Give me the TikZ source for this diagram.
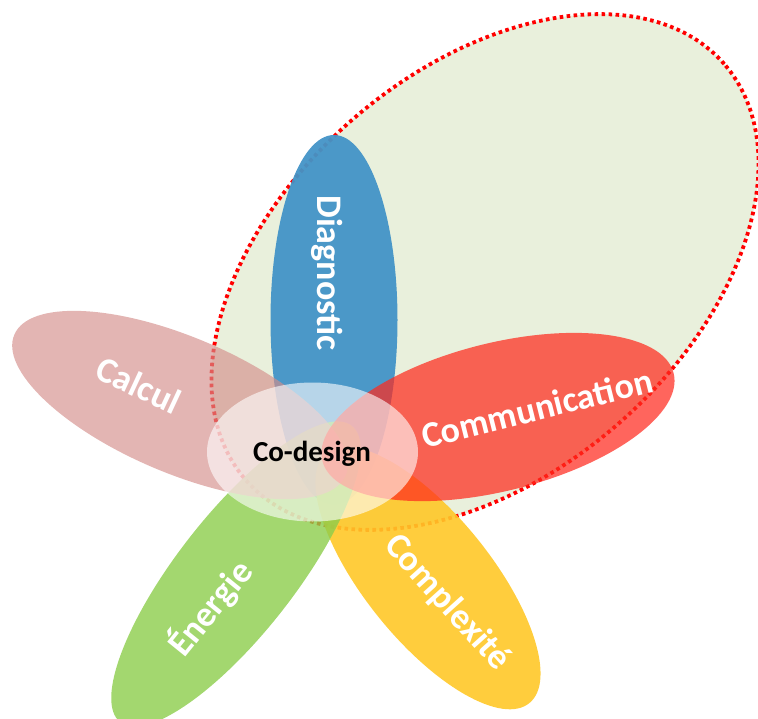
\documentclass[tikz,border=0pt]{standalone}
\usepackage{fontspec}
\setmainfont{Carlito}
\usetikzlibrary{shapes.geometric}
\definecolor{bigfill}{HTML}{E9F0DC}
\definecolor{dotred}{HTML}{FF0000}
\definecolor{cblue}{HTML}{4394C7}
\definecolor{cpink}{HTML}{D48E8B}
\definecolor{cred}{HTML}{FF2A1E}
\definecolor{cyellow}{HTML}{FFC828}
\definecolor{cgreen}{HTML}{8CCD4B}
\tikzset{
  petal/.style={ellipse, inner sep=0pt, draw=none},
  plabel/.style={text=white, font=\fontsize{36}{40}\selectfont\bfseries, inner sep=0pt},
}
\begin{document}
\begin{tikzpicture}[x=1pt,y=-1pt]
\useasboundingbox (0,0) rectangle (758,718);
% outer dotted ellipse
\node[petal, fill=bigfill, draw=dotred, line width=3.8pt, dash pattern=on 3.6pt off 3.4pt,
      minimum width=634pt, minimum height=404pt, rotate=41] (scope) at (485,272) {};
% Diagnostic
\node[petal, fill=cblue, fill opacity=0.95, minimum width=127pt, minimum height=370pt] (diag) at (334,320) {};
\node[plabel, rotate=-90] (diagt) at (327,273) {Diagnostic};
% Complexite
\node[petal, fill=cyellow, fill opacity=0.9, minimum width=322pt, minimum height=126pt, rotate=-51] (cplx) at (428,578) {};
\node[plabel, rotate=-48] (cplxt) at (447,603) {Complexité};
% Energie
\node[petal, fill=cgreen, fill opacity=0.8, minimum width=376pt, minimum height=118pt, rotate=52] (ener) at (236,574) {};
\node[plabel, rotate=51] (enert) at (210,608) {Énergie};
% Calcul
\node[petal, fill=cpink, fill opacity=0.65, minimum width=360pt, minimum height=136pt, rotate=-23] (calc) at (180,405) {};
\node[plabel, rotate=-25] (calct) at (139,385) {Calcul};
% Communication
\node[petal, fill=cred, fill opacity=0.72, minimum width=362pt, minimum height=148pt, rotate=14] (comm) at (498,417) {};
\node[plabel, rotate=14] (commt) at (537,408) {Communication};
% Co-design
\node[petal, fill=white, fill opacity=0.6, minimum width=211pt, minimum height=139pt] (codes) at (312.5,452) {};
\node[font=\fontsize{29}{32}\selectfont\bfseries, text=black, inner sep=0pt] (codest) at (312,454) {Co-design};
\end{tikzpicture}
\end{document}
